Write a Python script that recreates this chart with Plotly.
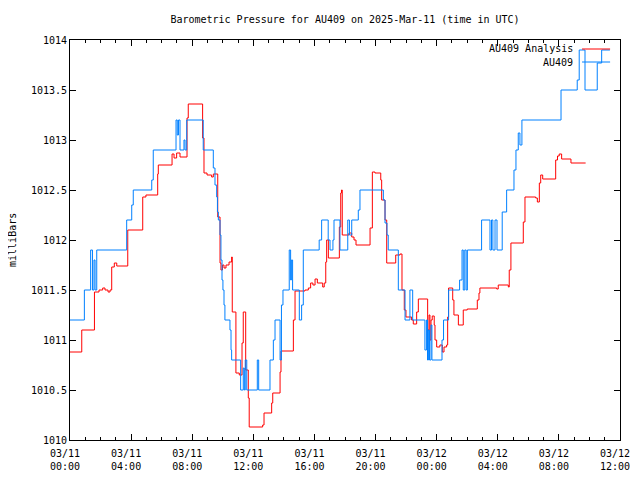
import pandas as pd
import plotly.graph_objects as go

# ---- data (hours after 2025-03-11 00:00 UTC, pressure in mb) ----
analysis_hours = [0.00, 0.77, 1.60, 1.90, 2.14, 2.29, 2.49, 2.62, 2.73, 2.90,
                  3.06, 3.78, 4.76, 4.97, 5.74, 5.78, 6.68, 6.81, 6.98, 7.20,
                  7.66, 7.74, 8.68, 8.77, 8.97, 9.27, 9.38, 9.67, 9.82, 9.88,
                  9.98, 10.08, 10.21, 10.41, 10.58, 10.62, 10.86, 11.08, 11.26, 11.34,
                  11.50, 11.67, 11.73, 12.61, 12.70, 13.20, 13.27, 13.75, 13.81, 14.62,
                  14.73, 15.38, 15.60, 15.75, 15.90, 16.04, 16.19, 16.54, 16.64, 16.74,
                  16.80, 16.91, 17.63, 17.72, 17.77, 17.82, 18.26, 18.44, 18.59, 18.72,
                  19.64, 19.79, 19.96, 20.34, 20.40, 20.62, 20.73, 21.32, 21.60, 21.73,
                  21.88, 21.99, 22.36, 22.47, 22.69, 22.80, 23.41, 23.50, 23.56, 23.63,
                  23.71, 23.84, 23.89, 24.00, 24.21, 24.37, 24.48, 24.65, 24.72, 24.78,
                  25.05, 25.13, 25.42, 25.74, 26.00, 26.66, 26.77, 26.83, 27.93, 28.03,
                  28.69, 28.75, 28.86, 29.67, 29.78, 30.48, 30.59, 30.72, 30.81, 30.94,
                  31.79, 31.91, 32.02, 32.18, 32.79, 33.75]
analysis_mb = [1010.88, 1011.10, 1011.48, 1011.50, 1011.52, 1011.50, 1011.48, 1011.50, 1011.73, 1011.77,
               1011.74, 1012.10, 1012.43, 1012.45, 1012.66, 1012.75, 1012.86, 1012.82, 1012.87, 1012.83,
               1013.22, 1013.36, 1013.02, 1012.67, 1012.65, 1012.63, 1012.66, 1012.23, 1011.77, 1011.70,
               1011.75, 1011.72, 1011.75, 1011.78, 1011.83, 1011.28, 1010.67, 1010.65, 1010.97, 1011.28,
               1010.70, 1010.42, 1010.13, 1010.15, 1010.27, 1010.37, 1010.47, 1010.68, 1010.89, 1011.20,
               1011.49, 1011.50, 1011.52, 1011.57, 1011.55, 1011.61, 1011.57, 1011.53, 1011.57, 1011.78,
               1012.00, 1011.82, 1012.13, 1012.47, 1012.50, 1012.05, 1012.07, 1012.03, 1012.00, 1011.95,
               1012.12, 1012.68, 1012.67, 1012.60, 1012.40, 1012.20, 1011.77, 1011.85, 1011.86, 1011.50,
               1011.30, 1011.23, 1011.20, 1011.16, 1011.28, 1011.41, 1011.10, 1011.25, 1011.00, 1011.20,
               1011.24, 1011.15, 1011.00, 1010.93, 1010.95, 1010.88, 1010.93, 1010.95, 1011.23, 1011.52,
               1011.40, 1011.25, 1011.15, 1011.30, 1011.31, 1011.40, 1011.47, 1011.52, 1011.51, 1011.55,
               1011.53, 1011.70, 1011.97, 1012.18, 1012.43, 1012.42, 1012.38, 1012.57, 1012.65, 1012.61,
               1012.80, 1012.84, 1012.86, 1012.81, 1012.77, 1012.77]

obs_hours = [0.00, 0.94, 1.35, 1.47, 1.57, 1.64, 1.75, 3.71, 4.04, 4.14,
             5.35, 5.45, 6.94, 7.02, 7.10, 7.20, 7.46, 7.53, 7.64, 8.72,
             9.38, 9.49, 9.60, 9.65, 9.71, 9.82, 9.88, 9.95, 10.01, 10.08,
             10.14, 10.47, 10.54, 10.58, 11.17, 11.34, 11.41, 11.47, 11.57, 12.26,
             12.35, 13.09, 13.31, 13.42, 13.75, 13.84, 13.94, 14.35, 14.44, 14.49,
             14.57, 15.01, 15.16, 15.27, 16.31, 16.47, 16.90, 17.02, 17.21, 17.28,
             17.67, 18.18, 18.29, 18.44, 18.87, 18.98, 20.51, 20.62, 20.75, 20.83,
             21.49, 21.93, 22.25, 22.43, 23.23, 23.33, 23.40, 23.46, 23.53, 23.63,
             23.69, 24.35, 24.45, 24.78, 25.50, 25.66, 25.74, 25.84, 25.93, 26.01,
             26.94, 27.49, 27.59, 27.68, 27.82, 27.95, 28.29, 28.58, 29.06, 29.19,
             29.34, 29.45, 29.58, 32.14, 33.20, 33.33, 33.71, 34.51, 34.80, 35.34]
obs_mb = [1011.2, 1011.5, 1011.9, 1011.5, 1011.8, 1011.5, 1011.9, 1012.2, 1012.35, 1012.5,
          1012.6, 1012.9, 1013.2, 1013.05, 1013.2, 1012.9, 1013.0, 1012.9, 1013.2, 1012.9,
          1012.72, 1012.55, 1012.43, 1012.28, 1012.2, 1012.05, 1011.8, 1011.6, 1011.5, 1011.35,
          1011.2, 1011.1, 1010.9, 1010.8, 1010.5, 1010.72, 1010.5, 1010.8, 1010.5, 1010.8,
          1010.5, 1010.8, 1011.0, 1011.2, 1010.8, 1011.35, 1011.5, 1011.9, 1011.6, 1011.8,
          1011.5, 1011.2, 1011.35, 1011.9, 1012.0, 1012.2, 1012.0, 1011.9, 1012.0, 1012.2,
          1011.9, 1012.2, 1012.05, 1012.2, 1012.3, 1012.5, 1012.4, 1012.17, 1012.05, 1011.9,
          1011.5, 1011.2, 1011.5, 1011.2, 1010.9, 1011.2, 1010.8, 1011.1, 1010.8, 1011.15,
          1010.8, 1011.0, 1011.2, 1011.5, 1011.6, 1011.9, 1011.5, 1011.9, 1011.5, 1011.9,
          1012.2, 1011.9, 1012.2, 1011.9, 1012.2, 1011.9, 1012.28, 1012.5, 1012.7, 1012.9,
          1013.07, 1012.95, 1013.2, 1013.5, 1013.6, 1013.9, 1013.5, 1013.77, 1013.9, 1013.9]

series_names = ["AU409 Analysis", "AU409"]
series_colors = ["#ff0000", "#0080ff"]
start = pd.Timestamp("2025-03-11 00:00")
end = pd.Timestamp("2025-03-12 12:00")
y_tick_values = [1010, 1010.5, 1011, 1011.5, 1012, 1012.5, 1013, 1013.5, 1014]
y_tick_labels = ["1010", "1010.5", "1011", "1011.5", "1012", "1012.5", "1013", "1013.5", "1014"]

FONT = "DejaVu Sans Mono"

def to_time(hours):
    return start + pd.to_timedelta(pd.Series(hours), unit="h")

fig = go.Figure()
for name, color, hrs, vals in [(series_names[0], series_colors[0], analysis_hours, analysis_mb),
                               (series_names[1], series_colors[1], obs_hours, obs_mb)]:
    fig.add_trace(go.Scatter(x=to_time(hrs), y=vals, mode="lines", name=name,
                             line=dict(color=color, width=1, shape="hv"),
                             showlegend=False))

axis_common = dict(showline=True, linecolor="black", linewidth=1, mirror="allticks",
                   ticks="inside", ticklen=6, tickcolor="black", showgrid=False,
                   zeroline=False, automargin=False,
                   tickfont=dict(family=FONT, size=10, color="black"))

fig.update_xaxes(type="date", range=[start, end], tick0=start, dtick=4 * 3600000,
                 tickformat="%m/%d<br>%H:%M", ticklabelshift=-5, ticklabelstandoff=4,
                 minor=dict(dtick=3600000, ticks="inside", ticklen=3, tickcolor="black"),
                 **axis_common)
fig.update_yaxes(range=[y_tick_values[0], y_tick_values[-1]], tickmode="array",
                 tickvals=y_tick_values, ticktext=y_tick_labels, **axis_common)

# legend drawn gnuplot-style: text on the left, sample line on the right
legend_y = [0.9775, 0.945]
annotations = []
shapes = []
for name, color, yy in zip(series_names, series_colors, legend_y):
    annotations.append(dict(x=0.918, y=yy, xref="paper", yref="paper", text=name,
                            showarrow=False, xanchor="right", yanchor="middle",
                            font=dict(family=FONT, size=10, color="black")))
    shapes.append(dict(type="line", xref="paper", yref="paper", x0=0.931, x1=0.982,
                       y0=yy, y1=yy, line=dict(color=color, width=1)))

annotations.append(dict(x=-0.1055, y=0.5, xref="paper", yref="paper", text="milliBars",
                        showarrow=False, textangle=-90, xanchor="center", yanchor="middle",
                        font=dict(family=FONT, size=10, color="black")))

# the page body has an 8px margin, so the figure is shrunk/shifted accordingly
fig.update_layout(
    width=632, height=472, autosize=False,
    margin=dict(l=62, r=20, t=32, b=40),
    paper_bgcolor="white", plot_bgcolor="white",
    title=dict(text="Barometric Pressure for AU409 on 2025-Mar-11 (time in UTC)",
               x=0.5, xref="paper", xanchor="center", y=1 - 11 / 472, yref="container",
               yanchor="middle", font=dict(family=FONT, size=10, color="black")),
    annotations=annotations, shapes=shapes,
)

fig.write_html("out.html")
